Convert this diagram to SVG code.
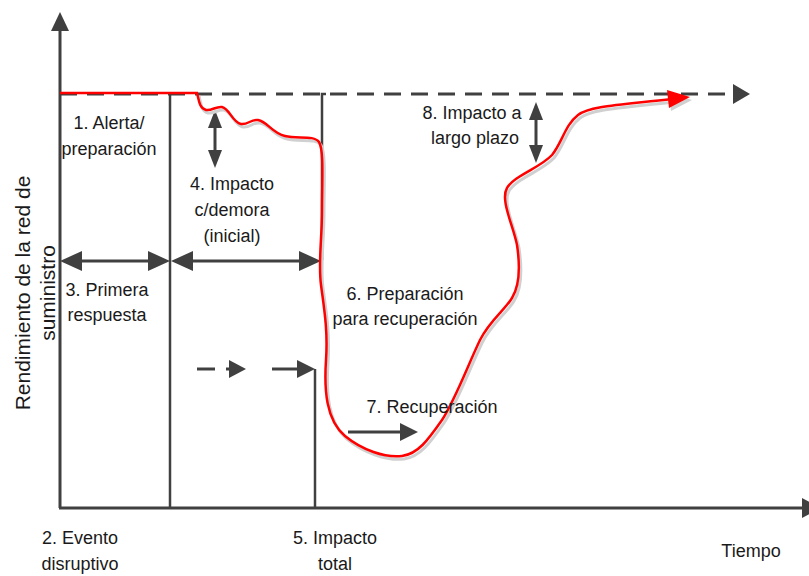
<svg xmlns="http://www.w3.org/2000/svg" width="809" height="576" viewBox="0 0 809 576">
<style>
.ln{stroke:#404040;stroke-width:2.5;fill:none}
.ax{stroke:#404040;stroke-width:3;fill:none}
.hd{fill:#404040}
.t{font-family:"Liberation Sans",Arial,sans-serif;font-size:18px;fill:#1a1a1a;text-anchor:middle}
.yl{font-size:21px}
.red{stroke:#ff0000;stroke-width:2.5;fill:none}
.sh{stroke:#d0d0d0;stroke-width:3;fill:none}
</style>
<rect width="809" height="576" fill="#fff"/>
<g id="axes">
<line class="ax" x1="60" y1="508" x2="60" y2="28"/>
<polygon class="hd" points="60,12 51,31 69,31"/>
<line class="ax" x1="59" y1="508" x2="805" y2="508"/>
<polygon class="hd" points="821,508 802,498 802,518"/>
</g>
<g id="baseline">
<line class="ax" x1="60" y1="94" x2="735" y2="94" stroke-dasharray="17,10"/>
<polygon class="hd" points="750,94 733,84 733,104"/>
</g>
<g id="connectors">
<line class="ln" x1="170" y1="94" x2="170" y2="508"/>
<polyline class="ln" points="322,260 322,94 326,94"/>
<line class="ln" x1="315" y1="369" x2="315" y2="508"/>
<line class="ax" x1="78" y1="261" x2="152" y2="261"/>
<polygon class="hd" points="60,261 82,251 82,271"/>
<polygon class="hd" points="170,261 148,251 148,271"/>
<line class="ax" x1="188" y1="261" x2="304" y2="261"/>
<polygon class="hd" points="171,261 193,251 193,271"/>
<polygon class="hd" points="321,261 299,251 299,271"/>
<line class="ax" x1="215" y1="124" x2="215" y2="154"/>
<polygon class="hd" points="215,110 208,128 222,128"/>
<polygon class="hd" points="215,168 208,150 222,150"/>
<line class="ax" x1="536" y1="116" x2="536" y2="149"/>
<polygon class="hd" points="536,102 529,120 543,120"/>
<polygon class="hd" points="536,163 529,145 543,145"/>
<line class="ax" x1="197" y1="369" x2="215" y2="369"/>
<line class="ax" x1="226" y1="369" x2="232" y2="369"/>
<polygon class="hd" points="246,369 229,360 229,378"/>
<line class="ax" x1="272" y1="369" x2="300" y2="369"/>
<polygon class="hd" points="315,369 297,360 297,378"/>
<line class="ax" x1="348" y1="432" x2="402" y2="432"/>
<polygon class="hd" points="418,432 400,423 400,441"/>
</g>
<g id="curve">
<path class="sh" transform="translate(2,3)" d="M197,93 C199,100 199,108 206,110 C212,111 216,106 222,107 C230,109 232,122 241,124 C248,125 251,119 258,120 C268,122 272,133 285,136 C298,139 314,135 319,142 C324,150 322,180 322,210 C322,240 318,262 321,285 C324,308 328,330 326,360 C324,390 326,420 345,436 C362,450 385,458 402,456 C418,454 428,440 442,420 C455,400 468,365 480,340 C490,320 505,310 512,298 C520,285 520,265 517,245 C513,225 500,200 507,188 C515,175 540,168 552,155 C562,143 565,125 578,115 C590,106 620,105 672,99"/>
<polygon fill="#d0d0d0" points="692,100 669,93 671,111"/>
<path class="red" d="M60,93 L197,93 C199,100 199,108 206,110 C212,111 216,106 222,107 C230,109 232,122 241,124 C248,125 251,119 258,120 C268,122 272,133 285,136 C298,139 314,135 319,142 C324,150 322,180 322,210 C322,240 318,262 321,285 C324,308 328,330 326,360 C324,390 326,420 345,436 C362,450 385,458 402,456 C418,454 428,440 442,420 C455,400 468,365 480,340 C490,320 505,310 512,298 C520,285 520,265 517,245 C513,225 500,200 507,188 C515,175 540,168 552,155 C562,143 565,125 578,115 C590,106 620,105 672,99"/>
<polygon fill="#ff0000" points="690,97 667,90 669,108"/>
</g>
<g id="labels">
<text class="t" x="109" y="129">1. Alerta/</text>
<text class="t" x="109" y="155">preparación</text>
<text class="t" x="232" y="190">4. Impacto</text>
<text class="t" x="232" y="216">c/demora</text>
<text class="t" x="232" y="242">(inicial)</text>
<text class="t" x="107" y="296">3. Primera</text>
<text class="t" x="107" y="321">respuesta</text>
<text class="t" x="80" y="544">2. Evento</text>
<text class="t" x="80" y="570">disruptivo</text>
<text class="t" x="335" y="544">5. Impacto</text>
<text class="t" x="335" y="570">total</text>
<text class="t" x="405" y="300">6. Preparación</text>
<text class="t" x="405" y="325">para recuperación</text>
<text class="t" x="432" y="413">7. Recuperación</text>
<text class="t" x="472" y="119">8. Impacto a</text>
<text class="t" x="475" y="144">largo plazo</text>
<text class="t" x="751" y="557">Tiempo</text>
<text class="t yl" transform="translate(30,293) rotate(-90)">Rendimiento de la red de</text>
<text class="t yl" transform="translate(55,293) rotate(-90)">suministro</text>
</g>
</svg>
